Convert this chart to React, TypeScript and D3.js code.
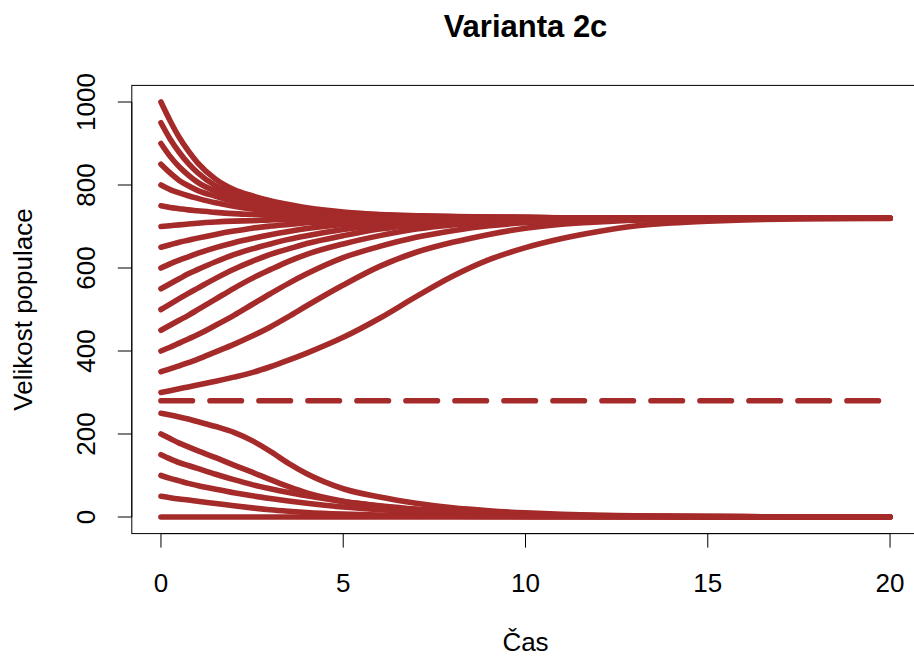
import React from "react";
import * as d3 from "d3";

// time points (Čas) at which values were read
const times = [0, 0.25, 0.5, 0.75, 1, 1.5, 2, 2.5, 3, 3.5, 4, 5, 6, 7, 8, 9, 10, 11, 12, 13, 14, 15, 16, 17, 18, 20];

// population trajectories (Velikost populace), one per starting value
const n1000 = [1000, 955, 915, 882, 854, 814, 789, 774, 762, 753, 745, 735, 729, 726, 724, 723, 722, 721, 721, 720.5, 720.3, 720.2, 720.1, 720, 720, 720];
const n950 = [950, 911, 879, 852, 830, 798, 780, 767, 757, 748, 742, 733, 728, 725, 724, 722, 722, 721, 721, 720.4, 720.3, 720.2, 720.1, 720, 720, 720];
const n900 = [900, 869, 844, 824, 807, 785, 771, 760, 751, 744, 738, 731, 727, 725, 723, 722, 721.5, 721, 720.7, 720.5, 720.3, 720.2, 720.1, 720, 720, 720];
const n850 = [850, 829, 811, 798, 787, 773, 761, 752, 745, 739, 734, 729, 726, 724, 723, 722, 721, 721, 720.5, 720.3, 720.2, 720.1, 720, 720, 720, 720];
const n800 = [800, 789, 781, 774, 768, 757, 749, 742, 737, 733, 730, 727, 725, 723, 722, 721.4, 721, 720.7, 720.4, 720.3, 720.2, 720.1, 720, 720, 720, 720];
const n750 = [750, 746, 743, 740, 738, 734, 731, 729, 727, 726, 725, 723, 722, 721.4, 721, 720.7, 720.5, 720.4, 720.3, 720.2, 720.1, 720, 720, 720, 720, 720];
const n700 = [700, 702, 704, 706, 708, 711, 713, 714, 716, 717, 717, 718, 719, 719.5, 719.7, 719.8, 719.9, 720, 720, 720, 720, 720, 720, 720, 720, 720];
const n650 = [650, 656, 662, 667, 672, 681, 689, 696, 701, 705, 709, 713, 716, 717.5, 718.5, 719.1, 719.5, 719.7, 719.8, 719.9, 720, 720, 720, 720, 720, 720];
const n600 = [600, 610, 619, 627, 635, 649, 661, 671, 680, 688, 695, 705, 711, 714.5, 716.7, 718, 718.8, 719.3, 719.6, 719.75, 719.9, 720, 720, 720, 720, 720];
const n550 = [550, 562, 574, 586, 596, 615, 632, 646, 658, 669, 678, 693, 704, 710, 714, 716.5, 718, 718.7, 719.3, 719.6, 719.75, 719.9, 720, 720, 720, 720];
const n500 = [500, 513, 526, 539, 551, 575, 597, 616, 633, 646, 659, 678, 694, 704, 710.5, 714, 716.5, 718, 718.7, 719.3, 719.6, 719.75, 719.9, 720, 720, 720];
const n450 = [450, 462, 474, 486, 499, 525, 551, 575, 596, 616, 633, 658, 678, 694, 704, 710.5, 714, 716.5, 718, 718.7, 719.3, 719.6, 719.75, 719.9, 720, 720];
const n400 = [400, 409, 419, 429, 439, 462, 486, 512, 538, 563, 586, 625, 652, 674, 690, 702, 709, 713, 716, 717.6, 718.6, 719.2, 719.5, 719.7, 719.8, 719.9];
const n350 = [350, 357, 364, 372, 380, 398, 416, 436, 458, 483, 509, 559, 604, 638, 662, 681, 696, 705.5, 711, 715, 717, 718, 719, 719.3, 719.6, 719.9];
const n300 = [300, 304.5, 309, 313.5, 318, 327, 337, 348, 362, 378, 395, 433, 479, 531, 580, 620, 649, 671, 688, 701, 708.5, 713, 716, 717.5, 718.5, 719.5];
const n250 = [250, 246, 241, 236, 230, 218, 204, 184, 158, 129, 104, 68, 48, 33, 22, 15, 10, 6.5, 4.3, 2.8, 1.8, 1.2, 0.8, 0.5, 0.3, 0.1];
const n200 = [200, 189, 178, 169, 160, 143, 125, 108, 90, 73, 58, 38, 26, 18, 12, 8.5, 6, 4, 2.8, 2, 1.4, 1, 0.7, 0.5, 0.3, 0.1];
const n150 = [150, 140, 131, 124, 117, 103, 90, 78, 68, 59, 51, 37, 27, 19, 13.5, 9.5, 6.7, 4.7, 3.3, 2.3, 1.6, 1.1, 0.8, 0.6, 0.4, 0.2];
const n100 = [100, 93, 87, 81, 76, 67, 58.5, 51, 44.5, 38.5, 33, 24, 17.5, 12.5, 9, 6.5, 4.7, 3.4, 2.4, 1.7, 1.2, 0.9, 0.6, 0.45, 0.3, 0.15];
const n50 = [50, 46.5, 43.5, 41, 38, 32.5, 27, 22, 17.5, 14, 11, 7, 4.5, 3, 2, 1.3, 0.9, 0.6, 0.4, 0.3, 0.2, 0.1, 0.1, 0, 0, 0];
const n0 = [0, 0, 0, 0, 0, 0, 0, 0, 0, 0, 0, 0, 0, 0, 0, 0, 0, 0, 0, 0, 0, 0, 0, 0, 0, 0];

const series = [n1000, n950, n900, n850, n800, n750, n700, n650, n600, n550, n500, n450, n400, n350, n300, n250, n200, n150, n100, n50, n0];

// unstable equilibrium (dashed)
const thresholdLevel = 280;
const thresholdSpan = [0, 20];

const xTicks = [0, 5, 10, 15, 20];
const yTicks = [0, 200, 400, 600, 800, 1000];

const titleText = "Varianta 2c";
const xLabel = "Čas";
const yLabel = "Velikost populace";

const COLOR = "#A52A2A";
const FONT = "'Liberation Sans', Arial, Helvetica, sans-serif";

export default function App() {
  const W = 914;
  const H = 659;
  const left = 131.8, right = 919.2, top = 85.4, bottom = 533.6;
  const x = d3.scaleLinear().domain([-0.8, 20.8]).range([left, right]);
  const y = d3.scaleLinear().domain([-40, 1040]).range([bottom, top]);

  const line = d3
    .line<number>()
    .x((_, i) => x(times[i]))
    .y((d) => y(d))
    .curve(d3.curveMonotoneX);

  const tickLen = 14;
  const fs = 26;

  return (
    <svg
      width={W}
      height={H}
      viewBox={`0 0 ${W} ${H}`}
      style={{ position: "absolute", left: 0, top: 0, background: "#fff" }}
      fontFamily={FONT}
    >
      <rect x={0} y={0} width={W} height={H} fill="#fff" />
      <defs>
        <clipPath id="plotclip">
          <rect x={left} y={top} width={right - left} height={bottom - top} />
        </clipPath>
      </defs>

      <g clipPath="url(#plotclip)">
        {series.map((s, i) => (
          <path
            key={i}
            d={line(s) || ""}
            fill="none"
            stroke={COLOR}
            strokeWidth={5.6}
            strokeLinecap="round"
            strokeLinejoin="round"
          />
        ))}
        <line
          x1={x(thresholdSpan[0])}
          x2={x(thresholdSpan[1])}
          y1={y(thresholdLevel)}
          y2={y(thresholdLevel)}
          stroke={COLOR}
          strokeWidth={5.6}
          strokeDasharray="31.5 17.5"
          strokeLinecap="round"
        />
      </g>

      {/* box */}
      <rect x={left} y={top} width={right - left} height={bottom - top} fill="none" stroke="#000" strokeWidth={1} />

      {/* x axis */}
      <line x1={x(xTicks[0])} x2={x(xTicks[xTicks.length - 1])} y1={bottom} y2={bottom} stroke="#000" strokeWidth={1} />
      {xTicks.map((t) => (
        <g key={t}>
          <line x1={x(t)} x2={x(t)} y1={bottom} y2={bottom + tickLen} stroke="#000" strokeWidth={1} />
          <text x={x(t)} y={591.5} fontSize={fs} textAnchor="middle" fill="#000">
            {t}
          </text>
        </g>
      ))}

      {/* y axis */}
      <line x1={left} x2={left} y1={y(yTicks[0])} y2={y(yTicks[yTicks.length - 1])} stroke="#000" strokeWidth={1} />
      {yTicks.map((t) => (
        <g key={t}>
          <line x1={left} x2={left - tickLen} y1={y(t)} y2={y(t)} stroke="#000" strokeWidth={1} />
          <text
            transform={`translate(95,${y(t)}) rotate(-90)`}
            fontSize={fs}
            textAnchor="middle"
            fill="#000"
          >
            {t}
          </text>
        </g>
      ))}

      {/* labels */}
      <text x={(left + right) / 2} y={37} fontSize={31} fontWeight="bold" textAnchor="middle" fill="#000">
        {titleText}
      </text>
      <text x={(left + right) / 2} y={651} fontSize={fs} textAnchor="middle" fill="#000">
        {xLabel}
      </text>
      <text
        transform={`translate(31.5,${(top + bottom) / 2}) rotate(-90)`}
        fontSize={fs}
        textAnchor="middle"
        fill="#000"
      >
        {yLabel}
      </text>
    </svg>
  );
}
